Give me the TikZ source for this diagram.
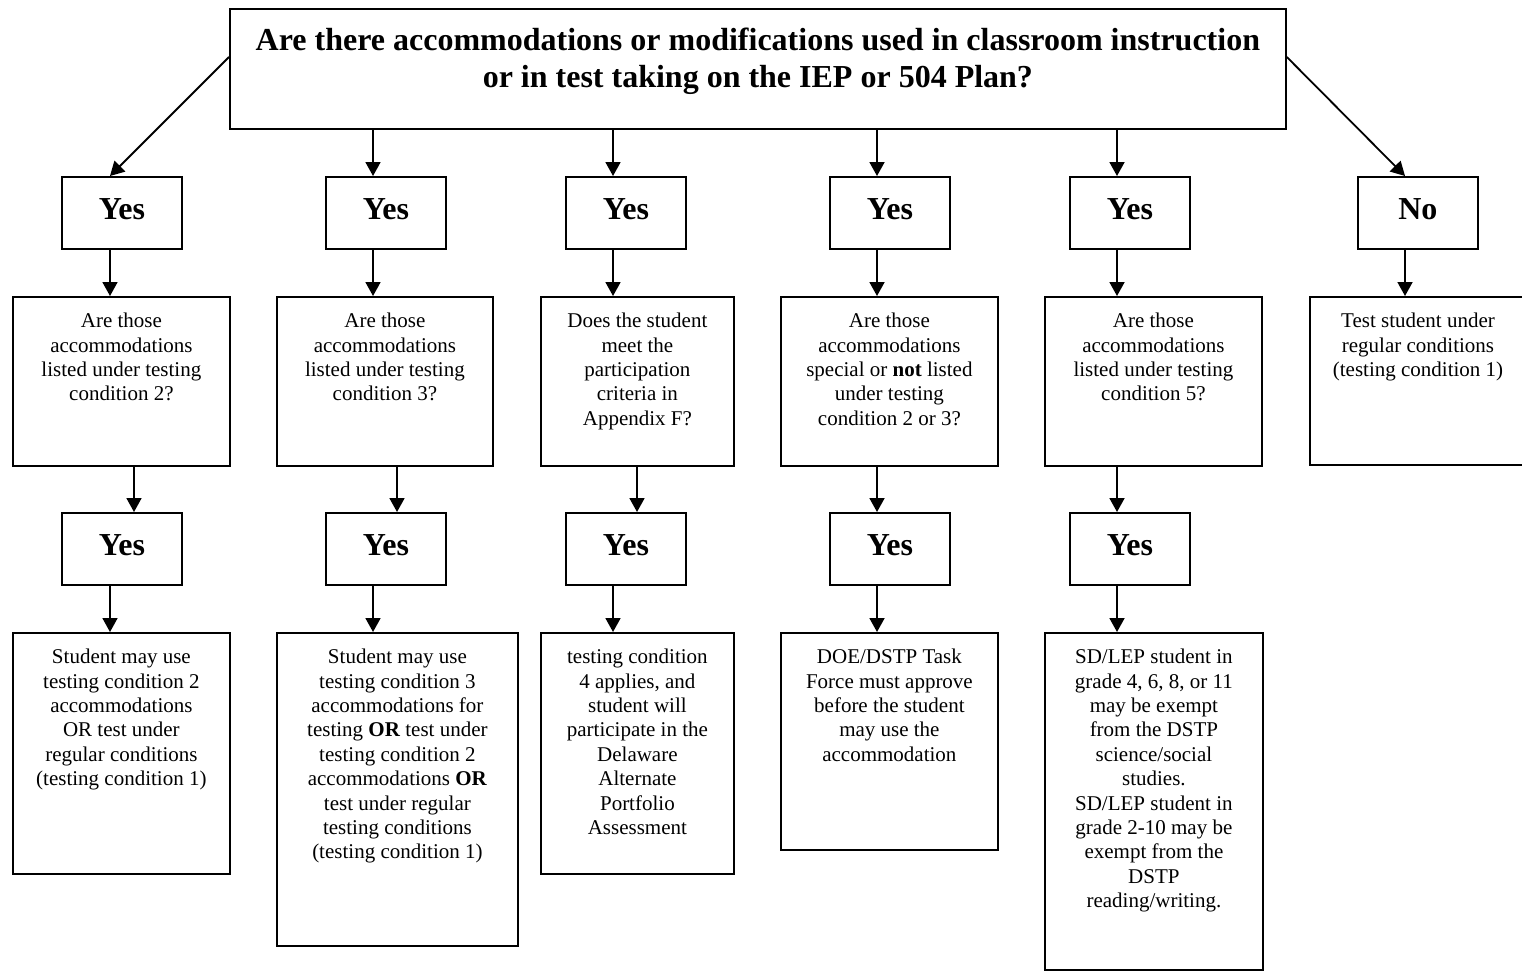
\documentclass[tikz,border=0pt]{standalone}
\usepackage{fontspec}
\setmainfont{Liberation Serif}
\usetikzlibrary{arrows.meta}
\begin{document}
\begin{tikzpicture}[x=1pt,y=-1pt,
  box/.style={draw, line width=1.8pt, rectangle, inner sep=0pt, anchor=north west},
  yesbox/.style={box, minimum width=120pt, minimum height=72pt, text depth=8pt, font=\fontsize{32}{37}\selectfont\bfseries},
  txt/.style={anchor=north, align=center, inner sep=0pt, font=\fontsize{21}{24.4}\selectfont},
  ttl/.style={anchor=north, align=center, inner sep=0pt, font=\fontsize{32}{37}\selectfont\bfseries},
  arr/.style={line width=1.8pt, -{Triangle[length=14pt,width=15pt]}},
]
\useasboundingbox (0,0) rectangle (1522,972);

% top box
\node[box, minimum width=1056pt, minimum height=120pt] (top) at (229,8) {};
\node[ttl] (ttltext) at ([yshift=-20pt]top.north) {Are there accommodations or modifications used in classroom instruction\\or in test taking on the IEP or 504 Plan?};

% row 1 answers
\node[yesbox] (y11) at (61,176) {Yes};
\node[yesbox] (y12) at (325,176) {Yes};
\node[yesbox] (y13) at (565,176) {Yes};
\node[yesbox] (y14) at (829,176) {Yes};
\node[yesbox] (y15) at (1069,176) {Yes};
\node[yesbox] (n16) at (1357,176) {No};

% row 2 boxes
\node[box, minimum width=217pt, minimum height=169pt] (b21) at (12,296) {};
\node[box, minimum width=216pt, minimum height=169pt] (b22) at (276,296) {};
\node[box, minimum width=193pt, minimum height=169pt] (b23) at (540,296) {};
\node[box, minimum width=217pt, minimum height=169pt] (b24) at (780,296) {};
\node[box, minimum width=217pt, minimum height=169pt] (b25) at (1044,296) {};
\node[box, minimum width=222pt, minimum height=168pt] (b26) at (1309,296) {};

\node[txt] (t21) at ([yshift=-17pt]b21.north) {Are those\\accommodations\\listed under testing\\condition 2?};
\node[txt] (t22) at ([yshift=-17pt]b22.north) {Are those\\accommodations\\listed under testing\\condition 3?};
\node[txt] (t23) at ([yshift=-17pt]b23.north) {Does the student\\meet the\\participation\\criteria in\\Appendix F?};
\node[txt] (t24) at ([yshift=-17pt]b24.north) {Are those\\accommodations\\special or \textbf{not} listed\\under testing\\condition 2 or 3?};
\node[txt] (t25) at ([yshift=-17pt]b25.north) {Are those\\accommodations\\listed under testing\\condition 5?};
\node[txt] (t26) at ([yshift=-17pt]b26.north -| 1418,0) {Test student under\\regular conditions\\(testing condition 1)};

% row 3 answers
\node[yesbox] (y31) at (61,512) {Yes};
\node[yesbox] (y32) at (325,512) {Yes};
\node[yesbox] (y33) at (565,512) {Yes};
\node[yesbox] (y34) at (829,512) {Yes};
\node[yesbox] (y35) at (1069,512) {Yes};

% row 4 boxes
\node[box, minimum width=217pt, minimum height=241pt] (b41) at (12,632) {};
\node[box, minimum width=241pt, minimum height=313pt] (b42) at (276,632) {};
\node[box, minimum width=193pt, minimum height=241pt] (b43) at (540,632) {};
\node[box, minimum width=217pt, minimum height=217pt] (b44) at (780,632) {};
\node[box, minimum width=218pt, minimum height=337pt] (b45) at (1044,632) {};

\node[txt] (t41) at ([yshift=-17pt]b41.north) {Student may use\\testing condition 2\\accommodations\\OR test under\\regular conditions\\(testing condition 1)};
\node[txt] (t42) at ([yshift=-17pt]b42.north) {Student may use\\testing condition 3\\accommodations for\\testing \textbf{OR} test under\\testing condition 2\\accommodations \textbf{OR}\\test under regular\\testing conditions\\(testing condition 1)};
\node[txt] (t43) at ([yshift=-17pt]b43.north) {testing condition\\4 applies, and\\student will\\participate in the\\Delaware\\Alternate\\Portfolio\\Assessment};
\node[txt] (t44) at ([yshift=-17pt]b44.north) {DOE/DSTP Task\\Force must approve\\before the student\\may use the\\accommodation};
\node[txt] (t45) at ([yshift=-17pt]b45.north) {SD/LEP student in\\grade 4, 6, 8, or 11\\may be exempt\\from the DSTP\\science/social\\studies.\\SD/LEP student in\\grade 2-10 may be\\exempt from the\\DSTP\\reading/writing.};

% connector x positions
\coordinate (k1a) at (110,0);
\coordinate (k1b) at (134,0);
\coordinate (k2a) at (373,0);
\coordinate (k2b) at (397,0);
\coordinate (k3a) at (613,0);
\coordinate (k3b) at (637,0);
\coordinate (k4) at (877,0);
\coordinate (k5) at (1117,0);
\coordinate (k6) at (1405,0);
\coordinate (dl) at (0,57);

% top to row 1
\draw[arr] (top.west |- dl) -- (y11.north -| k1a);
\draw[arr] (top.south -| k2a) -- (y12.north -| k2a);
\draw[arr] (top.south -| k3a) -- (y13.north -| k3a);
\draw[arr] (top.south -| k4) -- (y14.north -| k4);
\draw[arr] (top.south -| k5) -- (y15.north -| k5);
\draw[arr] (top.east |- dl) -- (n16.north -| k6);

% row 1 to row 2
\draw[arr] (y11.south -| k1a) -- (b21.north -| k1a);
\draw[arr] (y12.south -| k2a) -- (b22.north -| k2a);
\draw[arr] (y13.south -| k3a) -- (b23.north -| k3a);
\draw[arr] (y14.south -| k4) -- (b24.north -| k4);
\draw[arr] (y15.south -| k5) -- (b25.north -| k5);
\draw[arr] (n16.south -| k6) -- (b26.north -| k6);

% row 2 to row 3
\draw[arr] (b21.south -| k1b) -- (y31.north -| k1b);
\draw[arr] (b22.south -| k2b) -- (y32.north -| k2b);
\draw[arr] (b23.south -| k3b) -- (y33.north -| k3b);
\draw[arr] (b24.south -| k4) -- (y34.north -| k4);
\draw[arr] (b25.south -| k5) -- (y35.north -| k5);

% row 3 to row 4
\draw[arr] (y31.south -| k1a) -- (b41.north -| k1a);
\draw[arr] (y32.south -| k2a) -- (b42.north -| k2a);
\draw[arr] (y33.south -| k3a) -- (b43.north -| k3a);
\draw[arr] (y34.south -| k4) -- (b44.north -| k4);
\draw[arr] (y35.south -| k5) -- (b45.north -| k5);
\end{tikzpicture}
\end{document}
